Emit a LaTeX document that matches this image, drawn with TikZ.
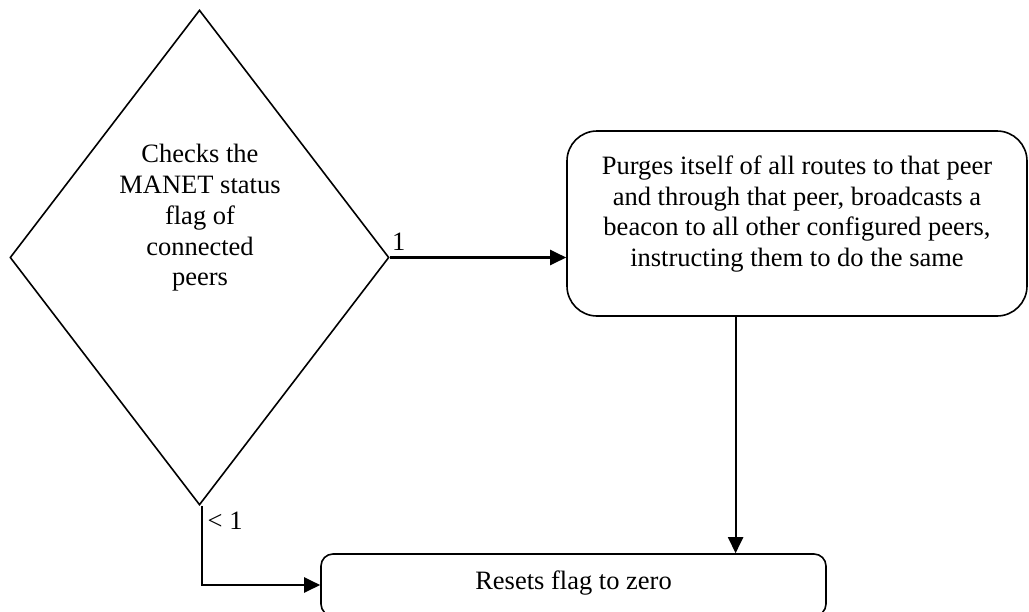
\documentclass[tikz,border=0pt]{standalone}
\usepackage{fontspec}
\setmainfont{Liberation Serif}
\usetikzlibrary{shapes.geometric,arrows.meta,calc}
\begin{document}
\begin{tikzpicture}[x=1pt,y=-1pt,
  txt/.style={font=\fontsize{26.5}{30.7}\selectfont, align=center, inner sep=0pt},
  decbox/.style={diamond, draw, line width=1.6pt, inner sep=0pt},
  stepbox/.style={draw, line width=1.6pt, inner sep=0pt},
  arr/.style={line width=2.2pt, -{Triangle[length=16pt,width=15pt]}},
  lbl/.style={font=\fontsize{26.5}{30.7}\selectfont, inner sep=0pt}]
\useasboundingbox (0,0) rectangle (1029,611);
\node[decbox, minimum width=379pt, minimum height=495pt] (dec) at (199.5,257.5) {};
\node[txt] (dectext) at (200,218) {Checks the\\MANET status\\flag of\\connected\\peers};
\node[stepbox, rounded corners=30pt, minimum width=460pt, minimum height=185pt] (purge) at (797,223.5) {};
\node[txt] (purgetext) at (797,214) {Purges itself of all routes to that peer\\and through that peer, broadcasts a\\beacon to all other configured peers,\\instructing them to do the same};
\node[stepbox, rounded corners=12pt, minimum width=505pt, minimum height=62pt] (resets) at (573.5,585) {};
\node[txt] (resetstext) at (573.5,583) {Resets flag to zero};
\coordinate (pdown) at ($(purge.south west)!0.367!(purge.south east)$);
\coordinate (lstart) at ([xshift=2.5pt]dec.south);
\draw[arr] (dec.east) -- (dec.east -| purge.west);
\draw[arr] (pdown) -- (pdown |- resets.north);
\draw[arr] (lstart) |- (resets.west);
\node[lbl, anchor=south west] (one) at ([xshift=2pt,yshift=7pt]dec.east) {1};
\node[lbl, anchor=west] (lt) at ([xshift=8pt,yshift=-15pt]dec.south) {< 1};
\end{tikzpicture}
\end{document}
